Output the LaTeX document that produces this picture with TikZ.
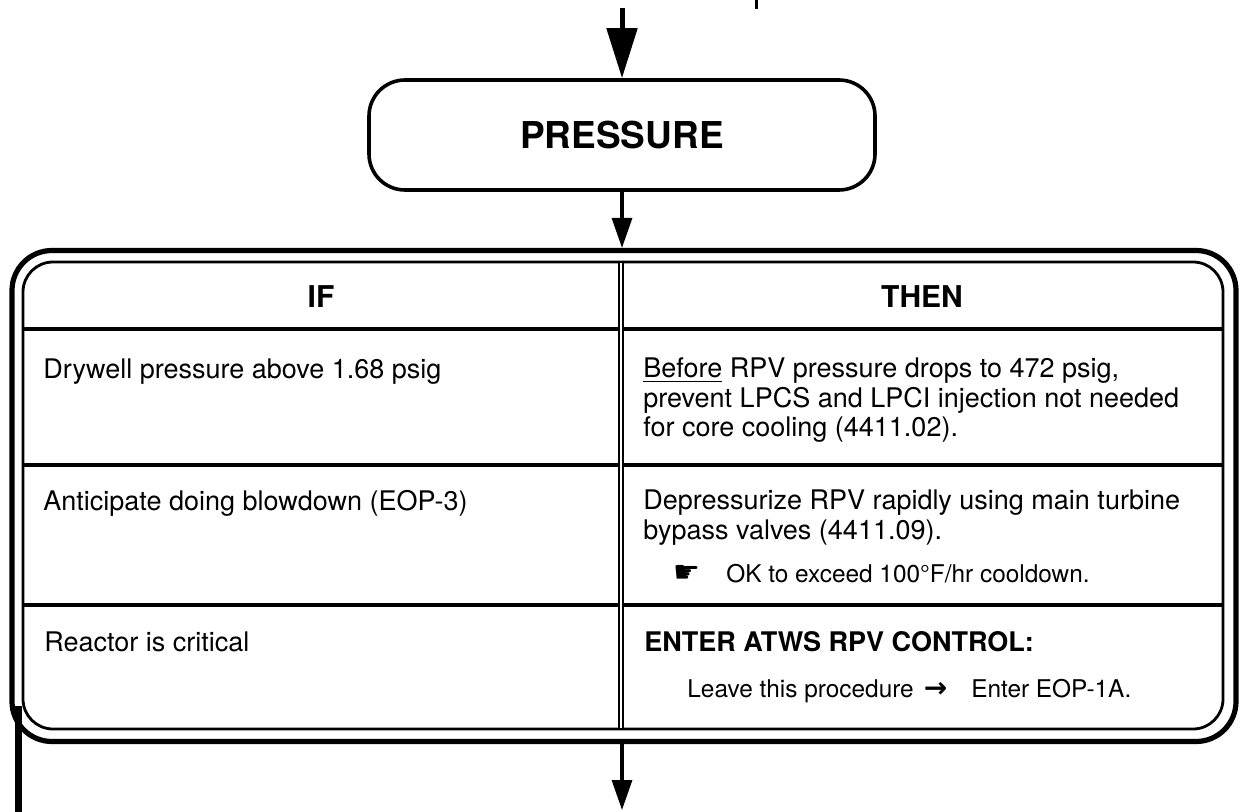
\documentclass[tikz,border=0pt]{standalone}
\usepackage{fontspec}
\setmainfont{TeX Gyre Heros}
\newfontfamily\dingfont{DejaVu Sans}
\usetikzlibrary{arrows.meta}

\tikzset{
    bigarrow/.style={line width=2.5pt, -{Triangle[length=25pt,width=15pt]}},
    flowarrow/.style={line width=1.6pt, -{Triangle[length=15pt,width=10pt]}},
    startbox/.style={draw, line width=1.8pt, rounded corners=18pt, minimum width=253pt, minimum height=55pt, font=\bfseries\fontsize{18.5}{22}\selectfont},
    outerframe/.style={draw, line width=2.6pt, rounded corners=20pt, minimum width=612pt, minimum height=245.5pt},
    innerframe/.style={draw, line width=1.4pt, rounded corners=15pt, minimum width=600pt, minimum height=233.5pt},
    rowline/.style={line width=1.6pt},
    colline/.style={line width=0.9pt, double, double distance=0.9pt},
    headtext/.style={font=\bfseries\fontsize{15}{18}\selectfont},
    celltext/.style={anchor=base west, inner sep=0pt, align=left, font=\fontsize{13.5}{14.75}\selectfont},
    notetext/.style={anchor=base west, inner sep=0pt, font=\fontsize{12.2}{14}\selectfont},
}

\begin{document}
\begin{tikzpicture}[x=0.5pt, y=-0.5pt]
    \newcommand{\pointHand}{{\dingfont\fontsize{15}{15}\selectfont ☛}}
    \newcommand{\goArrow}{{\dingfont\bfseries\fontsize{14}{14}\selectfont →}}

    \useasboundingbox (0,0) rectangle (1242,812);

    \coordinate (entry) at (622,8);
    \coordinate (exitpt) at (622,810);
    \coordinate (sidein) at (18,706);
    \coordinate (sideout) at (18,812);
    \coordinate (stubtop) at (756,0);
    \coordinate (stubend) at (756,9);

    \node[startbox] (pressure) at (622,135) {PRESSURE};
    \node[outerframe] (frame) at (624,496) {};
    \node[innerframe] (inner) at (623,495.5) {};

    \foreach \rowy in {329,465,605} {
        \draw[rowline] (23,\rowy) -- (1223,\rowy);
    }
    \draw[colline] (621,263) -- (621,728);

    \draw[bigarrow] (entry) -- (pressure.north);
    \draw[flowarrow] (pressure.south) -- (pressure.south |- frame.north);
    \draw[flowarrow] (pressure.south |- frame.south) -- (exitpt);
    \draw[line width=3.5pt] (sidein) -- (sideout);
    \draw[line width=1.5pt] (stubtop) -- (stubend);

    \node[headtext] (ifhead) at (321,297) {IF};
    \node[headtext] (thenhead) at (922,297) {THEN};

    \node[celltext] (ifone) at (43,379) {Drywell pressure above 1.68 psig};
    \node[celltext] (thenone) at (643,437) {\underline{Before} RPV pressure drops to 472 psig,\\prevent LPCS and LPCI injection not needed\\for core cooling (4411.02).};

    \node[celltext] (iftwo) at (43,510) {Anticipate doing blowdown (EOP-3)};
    \node[celltext] (thentwo) at (643,539) {Depressurize RPV rapidly using main turbine\\bypass valves (4411.09).};
    \node[notetext] (note) at (673,582) {\pointHand\hspace{13pt}OK to exceed 100°F/hr cooldown.};

    \node[celltext] (ifthree) at (44,651) {Reactor is critical};
    \node[celltext, font=\bfseries\fontsize{13.5}{15}\selectfont] (thenthree) at (644,651) {ENTER ATWS RPV CONTROL:};
    \node[notetext] (leave) at (687,697) {Leave this procedure\hspace{5pt}\goArrow\hspace{12pt}Enter EOP-1A.};

\end{tikzpicture}
\end{document}
